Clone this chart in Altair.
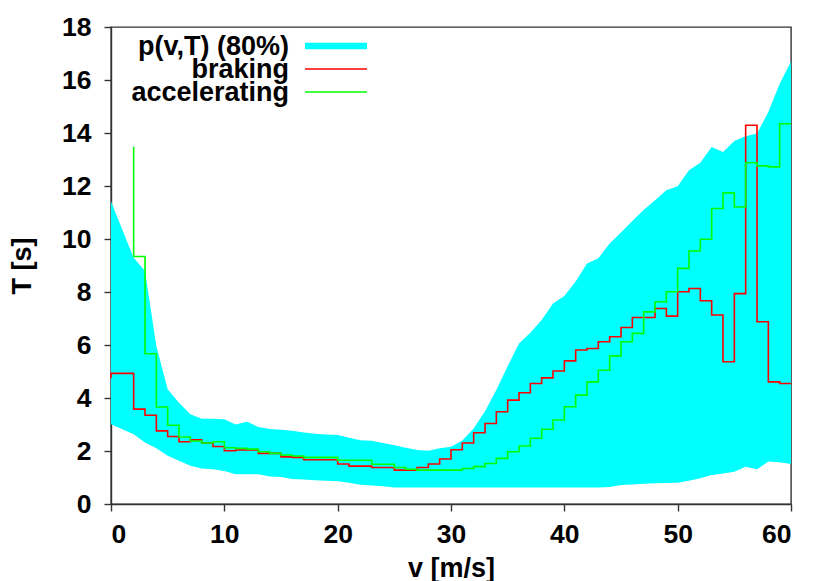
import altair as alt
import pandas as pd

# ---- data ----
# braking: step values, each value holds on [v-1, v] (first point is the start)
red_v = list(range(0, 61))
red_T = [4.75, 4.93, 4.93, 3.58, 3.35, 2.76, 2.55, 2.35, 2.42, 2.30,
         2.17, 2.01, 2.04, 2.04, 1.91, 1.91, 1.78, 1.76, 1.67, 1.67,
         1.67, 1.51, 1.43, 1.43, 1.38, 1.38, 1.28, 1.28, 1.38, 1.51,
         1.70, 2.05, 2.30, 2.69, 3.04, 3.48, 3.92, 4.20, 4.55, 4.76,
         5.02, 5.40, 5.81, 5.87, 6.12, 6.31, 6.66, 7.04, 7.04, 7.38,
         7.09, 8.01, 8.13, 7.67, 7.13, 5.37, 7.94, 14.29, 6.88, 4.61,
         4.55]

# accelerating
green_v = list(range(2, 61))
green_T = [13.48, 9.34, 5.67, 3.66, 2.97, 2.53, 2.38, 2.30, 2.35,
           2.12, 2.10, 2.07, 1.97, 1.91, 1.85, 1.81, 1.76, 1.76, 1.76,
           1.65, 1.65, 1.65, 1.50, 1.50, 1.38, 1.31, 1.28, 1.28, 1.28,
           1.28, 1.34, 1.41, 1.53, 1.72, 1.97, 2.19, 2.48, 2.82, 3.17,
           3.67, 4.11, 4.61, 5.05, 5.59, 6.12, 6.44, 7.25, 7.63, 8.01,
           8.89, 9.55, 9.99, 11.15, 11.74, 11.21, 12.88, 12.76, 12.72, 14.35]

# p(v,T) 80% band
band_v = list(range(0, 61))
band_lo = [3.01, 2.82, 2.63, 2.32, 2.10, 1.82, 1.63, 1.44, 1.34, 1.31,
           1.25, 1.12, 1.12, 1.12, 1.04, 1.02, 0.94, 0.92, 0.90, 0.88,
           0.86, 0.80, 0.73, 0.70, 0.67, 0.62, 0.62, 0.62, 0.62, 0.62,
           0.62, 0.62, 0.62, 0.62, 0.62, 0.62, 0.62, 0.62, 0.62, 0.62,
           0.62, 0.62, 0.62, 0.62, 0.64, 0.72, 0.74, 0.76, 0.78, 0.79,
           0.80, 0.88, 0.97, 1.09, 1.15, 1.22, 1.41, 1.31, 1.60, 1.58,
           1.51]
band_hi = [11.42, 10.35, 9.29, 8.79, 5.96, 4.33, 3.82, 3.39, 3.22, 3.22,
           3.20, 3.00, 3.10, 2.91, 2.83, 2.80, 2.76, 2.70, 2.65, 2.62,
           2.60, 2.50, 2.41, 2.39, 2.30, 2.22, 2.12, 2.04, 2.01, 2.10,
           2.16, 2.40, 2.85, 3.50, 4.30, 5.20, 6.06, 6.46, 6.94, 7.57,
           7.85, 8.40, 9.08, 9.27, 9.83, 10.25, 10.68, 11.09, 11.46, 11.84,
           11.99, 12.59, 12.88, 13.47, 13.28, 13.70, 13.88, 13.98, 14.79, 15.86,
           16.70]

x_ticks = [0, 10, 20, 30, 40, 50, 60]
y_ticks = [0, 2, 4, 6, 8, 10, 12, 14, 16, 18]

legend_labels = ["p(v,T) (80%)", "braking", "accelerating"]
legend_colors = ["#00ffff", "#ff0000", "#00ff00"]
legend_widths = [6.5, 1.5, 1.5]

FONT = "Liberation Sans"
W, H = 680, 477

df_band = pd.DataFrame({"v": band_v, "lo": band_lo, "hi": band_hi})
df_red = pd.DataFrame({"v": red_v, "T": red_T})
df_green = pd.DataFrame({"v": green_v, "T": green_T})

xs = alt.Scale(domain=[0, 60], nice=False, zero=False)
ys = alt.Scale(domain=[0, 18], nice=False)

band = alt.Chart(df_band).mark_area(color="#00ffff", opacity=1, interpolate="linear").encode(
    x=alt.X("v:Q", scale=xs, axis=alt.Axis(values=x_ticks, title="v [m/s]",
                                          labelPadding=10, titleX=W / 2, titleY=72,
                                          titleAlign="center", titleBaseline="alphabetic")),
    y=alt.Y("lo:Q", scale=ys, axis=alt.Axis(values=y_ticks, title="T [s]",
                                           labelPadding=13, titleX=-81, titleY=H / 2,
                                           titleAngle=270, titleAlign="center",
                                           titleBaseline="alphabetic")),
    y2="hi:Q",
)

red = alt.Chart(df_red).mark_line(color="#ff0000", strokeWidth=1.6,
                                  interpolate="step-before").encode(
    x=alt.X("v:Q", scale=xs), y=alt.Y("T:Q", scale=ys))
green = alt.Chart(df_green).mark_line(color="#00ff00", strokeWidth=1.6,
                                      interpolate="step-before").encode(
    x=alt.X("v:Q", scale=xs), y=alt.Y("T:Q", scale=ys))

layers = [band, red, green]
row_gap = 23
for i, (lab, col, sw) in enumerate(zip(legend_labels, legend_colors, legend_widths)):
    d = pd.DataFrame({"label": [lab]})
    layers.append(alt.Chart(d).mark_text(align="right", baseline="alphabetic",
                                         font=FONT, fontSize=27, fontWeight="bold",
                                         color="black").encode(
        text="label:N", x=alt.value(178), y=alt.value(28 + i * row_gap)))
    layers.append(alt.Chart(d).mark_rule(color=col, strokeWidth=sw).encode(
        x=alt.value(194), x2=alt.value(256), y=alt.value(19 + i * row_gap)))

chart = alt.layer(*layers).properties(
    width=W, height=H,
    autosize=alt.AutoSizeParams(type="none"),
    padding={"left": 103, "top": 19, "right": 31, "bottom": 84},
    background="white",
).configure_view(
    stroke="#333333", strokeWidth=1.4,
).configure_axis(
    grid=False,
    labelFont=FONT, labelFontSize=26.5, labelFontWeight="bold", labelColor="black",
    titleFont=FONT, titleFontSize=27, titleFontWeight="bold", titleColor="black",
    domainColor="#333333", domainWidth=1.4, tickColor="#333333", tickWidth=1.4,
    tickSize=7,
)

chart.save("out.html", embed_options={"renderer": "svg", "actions": False})
